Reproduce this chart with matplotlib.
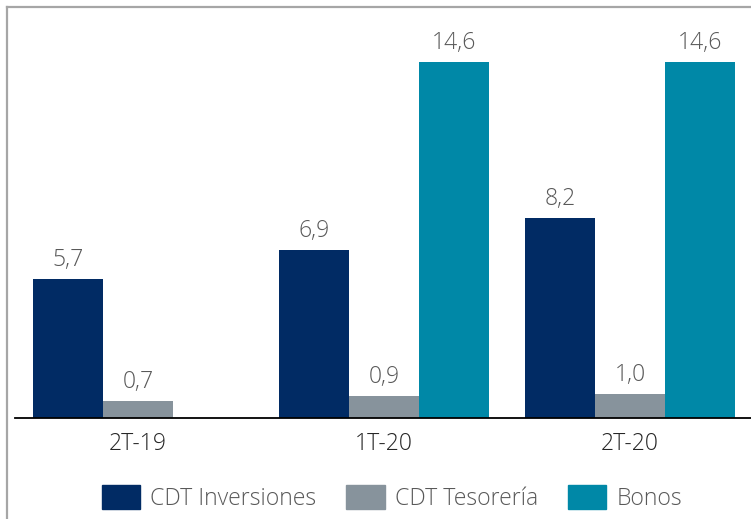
import matplotlib
matplotlib.use("Agg")
import matplotlib.pyplot as plt
import numpy as np
from matplotlib.lines import Line2D
from matplotlib.patches import Patch

categories = ["2T-19", "1T-20", "2T-20"]
series_names = ["CDT Inversiones", "CDT Tesorería", "Bonos"]
cdt_inversiones = [5.7, 6.9, 8.2]
cdt_tesoreria = [0.7, 0.9, 1.0]
bonos = [None, 14.6, 14.6]
colors = ["#012B64", "#87939C", "#0088A7"]

W, H = 751, 519
fig = plt.figure(figsize=(W / 100, H / 100), dpi=100)
plt.rcParams['font.family'] = ['Open Sans', 'DejaVu Sans']
FS = 16.6
FW = 300

# axes placement in pixels
x0, x1 = 15, 753
ybase, ytop = 418, 20
ax = fig.add_axes([x0 / W, 1 - ybase / H, (x1 - x0) / W, (ybase - ytop) / H])
scale = 24.38
ax.set_ylim(0, (ybase - ytop) / scale)
ax.set_xlim(-0.5, 2.5)

bw = 70 / 246
x = np.arange(len(categories))
series = [cdt_inversiones, cdt_tesoreria, bonos]
for i, (vals, c) in enumerate(zip(series, colors)):
    xs = [xi + (i - 1) * bw for xi, v in zip(x, vals) if v is not None]
    vs = [v for v in vals if v is not None]
    bars = ax.bar(xs, vs, width=bw, color=c, label=series_names[i])
    for b, v in zip(bars, vs):
        ax.annotate(f"{v:.1f}".replace(".", ","), (b.get_x() + b.get_width() / 2, v),
                    xytext=(0, 5), textcoords="offset points", ha="center", va="bottom",
                    fontsize=FS, fontweight=FW, color="#595959")

for s in ["top", "right", "left"]:
    ax.spines[s].set_visible(False)
ax.spines["bottom"].set_color("#000000")
ax.spines["bottom"].set_linewidth(1.3)
ax.set_yticks([])
ax.set_xticks(x)
ax.set_xticklabels(categories, fontsize=FS, fontweight=FW, color="#262626")
ax.tick_params(axis="x", length=0, pad=10)

# figure border (left and top)
fig.add_artist(Line2D([7 / W, 7 / W], [0, 1 - 7 / H], color="#A6A6A6", lw=1.6, transform=fig.transFigure))
fig.add_artist(Line2D([7 / W, 1], [1 - 7 / H, 1 - 7 / H], color="#A6A6A6", lw=1.6, transform=fig.transFigure))

handles = [Patch(color=c) for c in colors]
leg = fig.legend(handles, series_names, loc="center", bbox_to_anchor=(392 / W, 1 - 498 / H),
                 ncol=3, frameon=False, prop={'size': FS, 'weight': FW}, handlelength=1.65, handleheight=1.2,
                 handletextpad=0.45, columnspacing=1.3, borderpad=0)
for t in leg.get_texts():
    t.set_color("#595959")

fig.savefig("out.png", dpi=100)
